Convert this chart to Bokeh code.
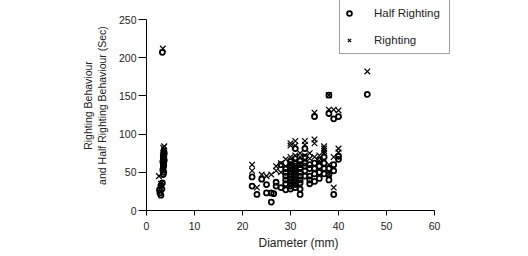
from bokeh.plotting import figure
from bokeh.models import Range1d, FixedTicker, Legend, LegendItem
from bokeh.embed import file_html
from bokeh.resources import INLINE

# Half righting (circles)
hr_x = [3.0, 2.8, 2.7, 3.2, 3.0, 3.3, 3.5, 3.6, 3.4, 3.5, 3.6, 3.5, 3.6, 3.4, 3.7, 3.5, 3.6, 3.5, 3.7, 3.6, 3.3,
        22, 22, 23, 24, 25, 25, 26, 26, 26.5, 27, 27, 28, 28, 29, 29, 29, 29, 29, 29,
        30, 30, 30, 30, 30, 30, 30, 30, 30, 30, 31, 31, 31, 31, 31, 31, 31, 31, 31, 31, 31,
        32, 32, 32, 32, 32, 32, 32, 32, 32, 33, 33, 33, 33, 33, 33, 34, 34, 34, 34, 34,
        35, 35, 35, 35, 35, 36, 36, 36, 36, 37, 37, 37, 37, 38, 38, 38, 38, 38,
        39, 39, 39, 39, 40, 40, 40, 46]
hr_y = [20, 23, 27, 28, 33, 36, 47, 50, 53, 56, 59, 61, 63, 64, 66, 68, 70, 72, 75, 77, 207,
        44, 32, 21, 41, 34, 23, 23, 11, 22, 37, 32, 30, 60, 27, 35, 40, 45, 50, 55,
        28, 32, 36, 40, 44, 48, 52, 56, 60, 64, 30, 34, 38, 42, 46, 50, 54, 58, 62, 68, 81,
        21, 28, 36, 40, 45, 50, 55, 60, 65, 45, 52, 58, 62, 70, 81, 35, 40, 45, 55, 60,
        38, 48, 55, 62, 123, 42, 50, 58, 66, 48, 55, 62, 70, 40, 47, 55, 127, 151,
        21, 52, 60, 120, 67, 71, 123, 152]

# Righting (crosses)
r_x = [2.6, 3.0, 3.5, 3.6, 3.7, 3.5, 3.7, 3.6, 3.5, 3.7, 3.4,
       22, 22, 23, 24, 25, 26, 27, 27, 28, 28, 29, 29, 30, 30, 30, 30, 31, 31, 31, 31,
       32, 32, 32, 33, 33, 33, 34, 34, 35, 35, 35, 35, 36, 36, 37, 37, 37, 37,
       38, 38, 38, 38, 39, 39, 39, 40, 40, 40, 46]
r_y = [45, 35, 55, 62, 68, 72, 76, 79, 82, 84, 212,
       60, 52, 30, 47, 45, 47, 52, 58, 62, 50, 67, 58, 70, 62, 85, 88, 91, 85, 72, 65,
       60, 70, 75, 91, 86, 72, 68, 75, 93, 88, 128, 70, 72, 65, 84, 81, 78, 75,
       151, 132, 60, 47, 132, 30, 70, 131, 81, 76, 182]

x_ticks = [0, 10, 20, 30, 40, 50, 60]
y_ticks = [0, 50, 100, 150, 200, 250]

FONT = "Liberation Sans"

p = figure(width=520, height=252, output_backend="svg", toolbar_location=None,
           x_range=Range1d(0, 63.33), y_range=Range1d(0, 274.9),
           min_border_left=146, min_border_right=70, min_border_top=0, min_border_bottom=0)
p.outline_line_color = None
p.xgrid.visible = False
p.ygrid.visible = False
p.background_fill_color = "white"
p.border_fill_color = "white"

r1 = p.scatter(hr_x, hr_y, marker="circle", size=5, fill_color="white", fill_alpha=0.0,
               line_color="black", line_width=1.8)
r2 = p.scatter(r_x, r_y, marker="x", size=8, line_color="black", line_width=1.2)

for ax in (p.xaxis[0], p.yaxis[0]):
    ax.axis_line_color = "black"
    ax.major_tick_line_color = "black"
    ax.minor_tick_line_color = None
    ax.major_tick_in = 0
    ax.major_label_text_font = FONT
    ax.major_label_text_font_size = "10.5px"
    ax.major_label_text_color = "#222222"
    ax.axis_label_text_font = FONT
    ax.axis_label_text_font_style = "normal"
    ax.axis_label_text_color = "#222222"

p.xaxis.ticker = FixedTicker(ticks=x_ticks)
p.yaxis.ticker = FixedTicker(ticks=y_ticks)
p.xaxis.bounds = (0, 60)
p.yaxis.bounds = (0, 250)
p.xaxis.major_tick_out = 5
p.yaxis.major_tick_out = 8
p.xaxis.major_label_standoff = 6
p.yaxis.major_label_standoff = 2
p.xaxis.axis_label = "Diameter (mm)"
p.xaxis.axis_label_text_font_size = "12px"
p.xaxis.axis_label_standoff = 3
p.yaxis.axis_label = "Righting Behaviour\nand Half Righting Behaviour (Sec)"
p.yaxis.axis_label_text_font_size = "10.5px"
p.yaxis.axis_label_standoff = 8

legend = Legend(items=[LegendItem(label="Half Righting", renderers=[r1]),
                       LegendItem(label="Righting", renderers=[r2])],
                location=(193, 155.6), orientation="vertical",
                padding=3, spacing=7, margin=0,
                glyph_width=12, glyph_height=20, label_height=20, label_width=72,
                label_standoff=19,
                label_text_font=FONT, label_text_font_size="11.5px", label_text_color="#222222",
                border_line_color="#444444", border_line_width=1,
                background_fill_color="white", background_fill_alpha=1.0)
p.add_layout(legend, "center")

open("out.html", "w").write(file_html(p, INLINE))
